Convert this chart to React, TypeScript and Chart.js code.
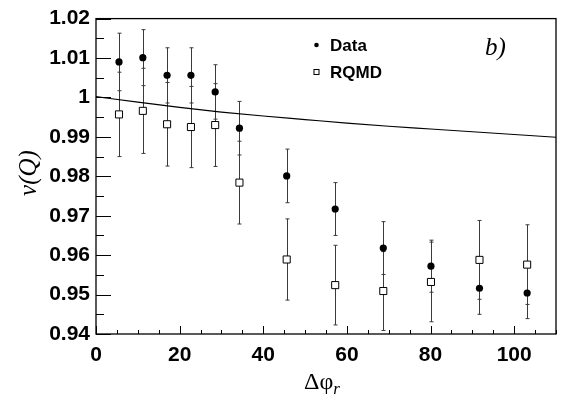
import React, { useEffect, useRef } from "react";
import { Chart, registerables } from "chart.js";

Chart.register(...registerables);

// Δφ_r bin centres (x)
const phiBins = [5.5, 11.2, 17.0, 22.7, 28.5, 34.3, 45.6, 57.2, 68.7, 80.1, 91.7, 103.1];
// Data series
const dataValues = [1.009, 1.0101, 1.0056, 1.0056, 1.0014, 0.9922, 0.9801, 0.9717, 0.9618, 0.9572, 0.9516, 0.9504];
const dataErrors = [0.0073, 0.0071, 0.007, 0.007, 0.0069, 0.0068, 0.0068, 0.0067, 0.0067, 0.0066, 0.0066, 0.0065];
// RQMD series
const rqmdValues = [0.9957, 0.9966, 0.9932, 0.9925, 0.993, 0.9784, 0.9589, 0.9524, 0.9509, 0.9532, 0.9588, 0.9576];
const rqmdErrors = [0.0107, 0.0108, 0.0106, 0.0103, 0.0105, 0.0105, 0.0103, 0.0101, 0.01, 0.0101, 0.01, 0.0101];
// Solid curve
const curveX = [0, 10, 20, 30, 40, 50, 60, 70, 80, 90, 100, 110];
const curveY = [1.0002, 0.9988, 0.9975, 0.9963, 0.9953, 0.9944, 0.9935, 0.9927, 0.992, 0.9913, 0.9906, 0.9899];
// Axis ticks
const xTickValues = [0, 20, 40, 60, 80, 100];
const yTickValues = [0.94, 0.95, 0.96, 0.97, 0.98, 0.99, 1.0, 1.01, 1.02];
const xRange = [0, 110];
const yRange = [0.94, 1.02];

const TICK_FONT = { family: "'Liberation Sans', Arial, sans-serif", size: 21, weight: "bold" as const };

const errorBarPlugin = {
  id: "errorBars",
  beforeDatasetsDraw(chart: any) {
    const { ctx } = chart;
    const yScale = chart.scales.y;
    const xScale = chart.scales.x;
    ctx.save();
    ctx.strokeStyle = "#3a3a3a";
    ctx.lineWidth = 1;
    chart.data.datasets.forEach((ds: any) => {
      if (!ds.errors) return;
      ds.data.forEach((p: any, i: number) => {
        const e = ds.errors[i];
        const x = Math.round(xScale.getPixelForValue(p.x)) + 0.5;
        const yt = yScale.getPixelForValue(p.y + e);
        const yb = yScale.getPixelForValue(p.y - e);
        ctx.beginPath();
        ctx.moveTo(x, yt);
        ctx.lineTo(x, yb);
        ctx.moveTo(x - 2, yt);
        ctx.lineTo(x + 2, yt);
        ctx.moveTo(x - 2, yb);
        ctx.lineTo(x + 2, yb);
        ctx.stroke();
      });
    });
    ctx.restore();
  },
};

const framePlugin = {
  id: "frameTicks",
  afterDraw(chart: any) {
    const { ctx, chartArea: a } = chart;
    const xs = chart.scales.x;
    const ys = chart.scales.y;
    ctx.save();
    ctx.strokeStyle = "#000";
    ctx.lineWidth = 1.3;
    ctx.strokeRect(a.left, a.top, a.right - a.left, a.bottom - a.top);
    ctx.lineWidth = 1;
    ctx.beginPath();
    // x ticks (inward, from bottom)
    for (let v = xRange[0]; v <= xRange[1] + 1e-9; v += 5) {
      const px = Math.round(xs.getPixelForValue(v)) + 0.5;
      const major = Math.abs(v % 20) < 1e-6;
      ctx.moveTo(px, a.bottom);
      ctx.lineTo(px, a.bottom - (major ? 8 : 4));
    }
    // y ticks (inward, from left)
    for (let k = 0; k <= 16; k++) {
      const v = yRange[0] + k * 0.005;
      const py = Math.round(ys.getPixelForValue(v)) + 0.5;
      const major = k % 2 === 0;
      ctx.moveTo(a.left, py);
      ctx.lineTo(a.left + (major ? 15 : 8), py);
    }
    ctx.stroke();

    // legend
    ctx.fillStyle = "#000";
    ctx.beginPath();
    ctx.arc(316.5, 45, 2.3, 0, Math.PI * 2);
    ctx.fill();
    ctx.lineWidth = 1;
    ctx.strokeStyle = "#000";
    ctx.strokeRect(314, 69.5, 5, 5);
    ctx.font = "bold 17px 'Liberation Sans', Arial, sans-serif";
    ctx.textAlign = "left";
    ctx.textBaseline = "alphabetic";
    ctx.fillText("Data", 330, 51);
    ctx.fillText("RQMD", 330, 78);

    // panel label
    ctx.font = "italic 25px 'Liberation Serif', 'Times New Roman', serif";
    ctx.fillText("b)", 485, 55);

    // x title
    const cx = (a.left + a.right) / 2;
    const startX = cx - 22;
    ctx.font = "24px 'Liberation Serif', 'DejaVu Serif', serif";
    ctx.fillText("Δφ", startX, 389);
    const w1 = ctx.measureText("Δφ").width;
    ctx.font = "italic 17px 'Liberation Serif', serif";
    ctx.fillText("r", startX + w1, 394);

    // y title
    ctx.translate(36, 173);
    ctx.rotate(-Math.PI / 2);
    ctx.font = "italic 25px 'Liberation Serif', 'Times New Roman', serif";
    ctx.textAlign = "center";
    ctx.fillText("v(Q)", 0, 0);
    ctx.restore();
  },
};

export default function App() {
  const ref = useRef<HTMLCanvasElement>(null);
  useEffect(() => {
    document.body.style.margin = "0";
    const canvas = ref.current!;
    const chart = new Chart(canvas, {
      type: "scatter",
      data: {
        datasets: [
          {
            label: "curve",
            type: "line",
            data: curveX.map((x, i) => ({ x, y: curveY[i] })),
            borderColor: "#000",
            borderWidth: 1.2,
            pointRadius: 0,
            cubicInterpolationMode: "monotone",
            fill: false,
          } as any,
          {
            label: "RQMD",
            data: phiBins.map((x, i) => ({ x, y: rqmdValues[i] })),
            pointStyle: "rect",
            pointRadius: 5,
            backgroundColor: "#fff",
            borderColor: "#000",
            borderWidth: 1,
            errors: rqmdErrors,
          } as any,
          {
            label: "Data",
            data: phiBins.map((x, i) => ({ x, y: dataValues[i] })),
            pointStyle: "circle",
            pointRadius: 3.6,
            backgroundColor: "#000",
            borderColor: "#000",
            borderWidth: 0,
            errors: dataErrors,
          } as any,
        ],
      },
      options: {
        responsive: false,
        animation: false,
        devicePixelRatio: 1,
        layout: { padding: { top: 11, right: 7, left: 0, bottom: 0 } },
        plugins: { legend: { display: false }, tooltip: { enabled: false } },
        scales: {
          x: {
            type: "linear",
            min: xRange[0],
            max: xRange[1],
            afterBuildTicks: (s: any) => {
              s.ticks = xTickValues.map((value) => ({ value }));
            },
            afterFit: (s: any) => {
              s.height = 68;
            },
            grid: { display: false, drawTicks: false },
            border: { display: false },
            ticks: { font: TICK_FONT, color: "#000", padding: 9, maxRotation: 0 },
          },
          y: {
            type: "linear",
            min: yRange[0],
            max: yRange[1],
            afterBuildTicks: (s: any) => {
              s.ticks = yTickValues.map((value) => ({ value }));
            },
            afterFit: (s: any) => {
              s.width = 96;
            },
            grid: { display: false, drawTicks: false },
            border: { display: false },
            ticks: {
              font: TICK_FONT,
              color: "#000",
              padding: 6,
              callback: (v: any) => String(Number(Number(v).toFixed(2))),
            },
          },
        },
      },
      plugins: [errorBarPlugin, framePlugin],
    });
    return () => chart.destroy();
  }, []);
  return (
    <div style={{ position: "fixed", left: 0, top: 0, width: 563, height: 402, background: "#fff" }}>
      <canvas ref={ref} width={563} height={402} style={{ width: 563, height: 402, display: "block" }} />
    </div>
  );
}
